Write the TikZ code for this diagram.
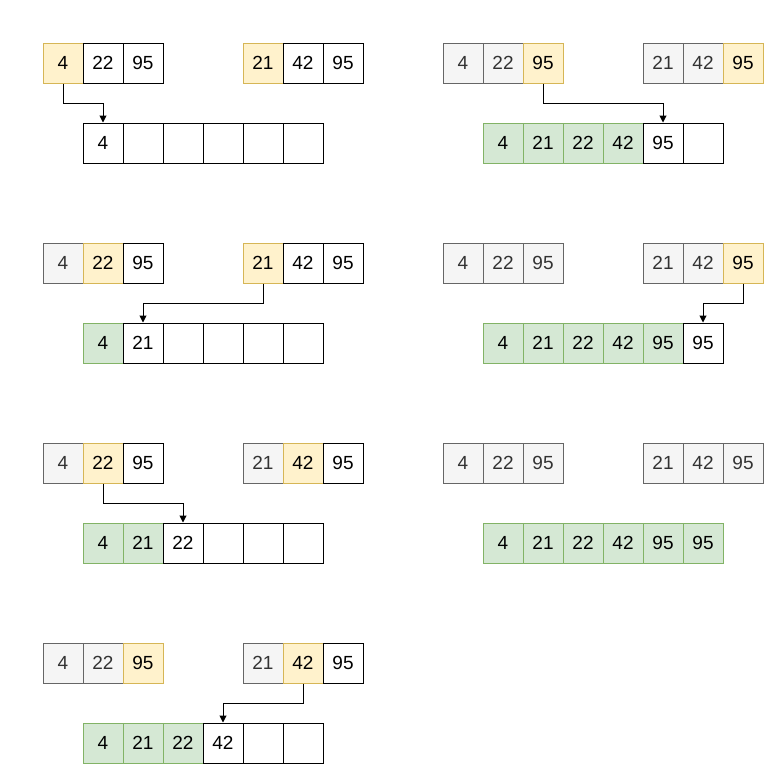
\documentclass[tikz,border=0pt]{standalone}
\usepackage{fontspec}
\setmainfont{Liberation Sans}
\usetikzlibrary{arrows.meta}
\definecolor{usedfill}{HTML}{F5F5F5}
\definecolor{useddraw}{HTML}{666666}
\definecolor{usedtext}{HTML}{333333}
\definecolor{pickfill}{HTML}{FFF2CC}
\definecolor{pickdraw}{HTML}{D6B656}
\definecolor{mergedfill}{HTML}{D5E8D4}
\definecolor{mergeddraw}{HTML}{82B366}
\begin{document}
\begin{tikzpicture}[
    x=1pt, y=-1pt,
    cell/.style={rectangle, draw, line width=1pt, minimum size=40pt,
        inner sep=0pt, font=\fontsize{19}{22}\selectfont},
    freecell/.style={cell, fill=white},
    usedcell/.style={cell, fill=usedfill, draw=useddraw, text=usedtext},
    pickcell/.style={cell, fill=pickfill, draw=pickdraw},
    mergedcell/.style={cell, fill=mergedfill, draw=mergeddraw},
    arrowstyle/.style={draw, line width=1pt, -{Triangle[length=7pt,width=7pt]}}
]
\useasboundingbox (0,0) rectangle (782,782);

% step 1
\foreach \v/\s [count=\i] in {4/pickcell,22/freecell,95/freecell}
  \node (p1a\i) [\s] at (23+40*\i,63) {\v};
\foreach \v/\s [count=\i] in {21/pickcell,42/freecell,95/freecell}
  \node (p1b\i) [\s] at (223+40*\i,63) {\v};
\foreach \v/\s [count=\i] in {4/freecell,/freecell,/freecell,/freecell,/freecell,/freecell}
  \node (p1r\i) [\s] at (63+40*\i,143) {\v};

% step 2
\foreach \v/\s [count=\i] in {4/usedcell,22/pickcell,95/freecell}
  \node (p2a\i) [\s] at (23+40*\i,263) {\v};
\foreach \v/\s [count=\i] in {21/pickcell,42/freecell,95/freecell}
  \node (p2b\i) [\s] at (223+40*\i,263) {\v};
\foreach \v/\s [count=\i] in {4/mergedcell,21/freecell,/freecell,/freecell,/freecell,/freecell}
  \node (p2r\i) [\s] at (63+40*\i,343) {\v};

% step 3
\foreach \v/\s [count=\i] in {4/usedcell,22/pickcell,95/freecell}
  \node (p3a\i) [\s] at (23+40*\i,463) {\v};
\foreach \v/\s [count=\i] in {21/usedcell,42/pickcell,95/freecell}
  \node (p3b\i) [\s] at (223+40*\i,463) {\v};
\foreach \v/\s [count=\i] in {4/mergedcell,21/mergedcell,22/freecell,/freecell,/freecell,/freecell}
  \node (p3r\i) [\s] at (63+40*\i,543) {\v};

% step 4
\foreach \v/\s [count=\i] in {4/usedcell,22/usedcell,95/pickcell}
  \node (p4a\i) [\s] at (23+40*\i,663) {\v};
\foreach \v/\s [count=\i] in {21/usedcell,42/pickcell,95/freecell}
  \node (p4b\i) [\s] at (223+40*\i,663) {\v};
\foreach \v/\s [count=\i] in {4/mergedcell,21/mergedcell,22/mergedcell,42/freecell,/freecell,/freecell}
  \node (p4r\i) [\s] at (63+40*\i,743) {\v};

% step 5
\foreach \v/\s [count=\i] in {4/usedcell,22/usedcell,95/pickcell}
  \node (p5a\i) [\s] at (423+40*\i,63) {\v};
\foreach \v/\s [count=\i] in {21/usedcell,42/usedcell,95/pickcell}
  \node (p5b\i) [\s] at (623+40*\i,63) {\v};
\foreach \v/\s [count=\i] in {4/mergedcell,21/mergedcell,22/mergedcell,42/mergedcell,95/freecell,/freecell}
  \node (p5r\i) [\s] at (463+40*\i,143) {\v};

% step 6
\foreach \v/\s [count=\i] in {4/usedcell,22/usedcell,95/usedcell}
  \node (p6a\i) [\s] at (423+40*\i,263) {\v};
\foreach \v/\s [count=\i] in {21/usedcell,42/usedcell,95/pickcell}
  \node (p6b\i) [\s] at (623+40*\i,263) {\v};
\foreach \v/\s [count=\i] in {4/mergedcell,21/mergedcell,22/mergedcell,42/mergedcell,95/mergedcell,95/freecell}
  \node (p6r\i) [\s] at (463+40*\i,343) {\v};

% step 7
\foreach \v/\s [count=\i] in {4/usedcell,22/usedcell,95/usedcell}
  \node (p7a\i) [\s] at (423+40*\i,463) {\v};
\foreach \v/\s [count=\i] in {21/usedcell,42/usedcell,95/usedcell}
  \node (p7b\i) [\s] at (623+40*\i,463) {\v};
\foreach \v [count=\i] in {4,21,22,42,95,95}
  \node (p7r\i) [mergedcell] at (463+40*\i,543) {\v};

% moves
\draw[arrowstyle] (p1a1.south) -- ++(0,20) -| (p1r1.north);
\draw[arrowstyle] (p2b1.south) -- ++(0,20) -| (p2r2.north);
\draw[arrowstyle] (p3a2.south) -- ++(0,20) -| (p3r3.north);
\draw[arrowstyle] (p4b2.south) -- ++(0,20) -| (p4r4.north);
\draw[arrowstyle] (p5a3.south) -- ++(0,20) -| (p5r5.north);
\draw[arrowstyle] (p6b3.south) -- ++(0,20) -| (p6r6.north);

\end{tikzpicture}
\end{document}
